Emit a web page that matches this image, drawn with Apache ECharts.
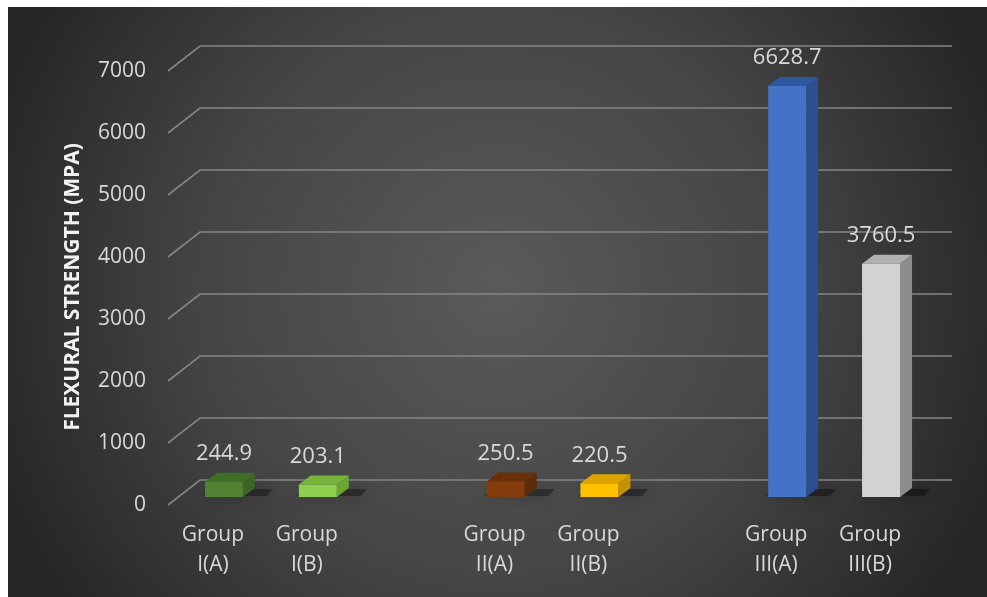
<!DOCTYPE html>
<html>
<head>
<meta charset="utf-8">
<script src="https://cdn.jsdelivr.net/npm/echarts@6/dist/echarts.min.js"></script>
<style>
html,body{margin:0;padding:0;background:#fff;}
#chart{width:987px;height:597px;}
</style>
</head>
<body>
<div id="chart"></div>
<script>
var categories = ['Group\nI(A)', 'Group\nI(B)', '', 'Group\nII(A)', 'Group\nII(B)', '', 'Group\nIII(A)', 'Group\nIII(B)'];
var values = [244.9, 203.1, null, 250.5, 220.5, null, 6628.7, 3760.5];
var frontColors = ['#548235', '#8fd14f', null, '#843c0c', '#ffc000', null, '#4472c4', '#d3d1d1'];
var topColors   = ['#3f6f27', '#76b63a', null, '#6b3009', '#dda400', null, '#2f58a2', '#b2b0b0'];
var sideColors  = ['#3b6524', '#6ca534', null, '#5f2b08', '#c59300', null, '#2c4f8e', '#8e8d8d'];
var yTicks = [0, 1000, 2000, 3000, 4000, 5000, 6000, 7000];

var DX = 12, DY = -9, BW = 38;
var chart = echarts.init(document.getElementById('chart'));

var barData = [];
for (var i = 0; i < values.length; i++) {
  barData.push([i, values[i] == null ? null : values[i]]);
}

var option = {
  backgroundColor: '#ffffff',
  animation: false,
  graphic: [{
    type: 'rect', z: -100, silent: true,
    shape: {x: 8, y: 7, width: 979, height: 590},
    style: {
      fill: {type: 'radial', x: 0.5, y: 0.48, r: 0.9, colorStops: [
        {offset: 0, color: '#5a5a5a'},
        {offset: 0.55, color: '#454545'},
        {offset: 1, color: '#262626'}
      ]}
    }
  }],
  grid: {left: 177, right: 59, top: 63, bottom: 100},
  xAxis: {
    type: 'category', data: categories,
    axisLine: {show: false}, axisTick: {show: false},
    axisLabel: {interval: 0, margin: 23, fontSize: 21, lineHeight: 30, color: '#d9d9d9',
      fontFamily: 'Open Sans', padding: [0, 22, 0, 0]}
  },
  yAxis: {
    type: 'value', min: 0, max: 7000, interval: 1000,
    name: 'FLEXURAL STRENGTH (MPA)', nameLocation: 'middle', nameGap: 93,
    nameTextStyle: {fontSize: 21, fontWeight: 'bold', color: '#f2f2f2', fontFamily: 'Open Sans',
      padding: [0, 14, 0, 0]},
    axisLine: {show: false}, axisTick: {show: false}, splitLine: {show: false},
    axisLabel: {margin: 31, fontSize: 21, color: '#d9d9d9', fontFamily: 'Open Sans',
      verticalAlign: 'top', lineHeight: 16,
      formatter: function (v) { return String(v); }}
  },
  series: [
    {
      type: 'custom', z: 1, silent: true,
      data: yTicks.map(function (v) { return [0, v]; }),
      renderItem: function (params, api) {
        var cs = params.coordSys;
        var y = api.coord([0, api.value(1)])[1];
        var l = cs.x, r = cs.x + cs.width;
        return {
          type: 'polyline',
          shape: {points: [[l - 9, y + 8], [l + 23, y - 17], [r + 24, y - 17]]},
          style: {stroke: '#858585', lineWidth: 1.6, fill: null}
        };
      }
    },
    {
      type: 'custom', z: 3, silent: true,
      data: barData,
      renderItem: function (params, api) {
        var idx = params.dataIndex;
        var v = values[idx];
        if (v == null) return {type: 'group', children: []};
        var base = api.coord([idx, 0]);
        var top = api.coord([idx, v]);
        var cx = base[0];
        var x0 = cx - BW / 2, x1 = cx + BW / 2;
        var yb = base[1], yt = top[1];
        return {
          type: 'group',
          children: [
            {
              type: 'polygon',
              shape: {points: [[x0 - 2, yb - 1], [x1 + DX + 12, yb - 1], [x1 + DX + 18, yb + DY + 1], [x0 + 6, yb + DY + 1]]},
              style: {fill: 'rgba(0,0,0,0.35)', shadowBlur: 18, shadowColor: 'rgba(0,0,0,0.95)'}
            },
            {
              type: 'polygon',
              shape: {points: [[x1, yb], [x1 + DX, yb + DY], [x1 + DX, yt + DY], [x1, yt]]},
              style: {fill: sideColors[idx]}
            },
            {
              type: 'polygon',
              shape: {points: [[x0, yt], [x1, yt], [x1 + DX, yt + DY], [x0 + DX, yt + DY]]},
              style: {fill: topColors[idx]}
            },
            {
              type: 'rect',
              shape: {x: x0, y: yt, width: BW, height: yb - yt},
              style: {fill: frontColors[idx]}
            },
            {
              type: 'text',
              style: {text: String(v), x: cx, y: yt - 28, align: 'center', verticalAlign: 'middle',
                fontSize: 22, fill: '#d9d9d9', fontFamily: 'Open Sans'}
            }
          ]
        };
      }
    }
  ]
};
chart.setOption(option);
</script>
</body>
</html>
